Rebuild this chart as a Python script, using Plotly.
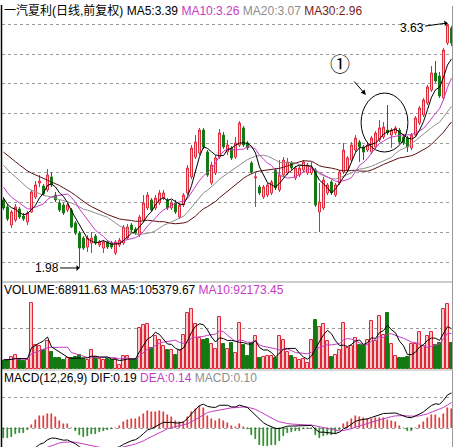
import plotly.graph_objects as go
import pandas as pd
import numpy as np

# ---------------- data ----------------
open_ = [2.438, 2.391, 2.269, 2.303, 2.377, 2.330, 2.290, 2.357, 2.458, 2.552,
         2.532, 2.505, 2.593, 2.471, 2.418, 2.404, 2.370, 2.370, 2.283, 2.215,
         2.182, 2.121, 2.148, 2.195, 2.135, 2.114, 2.155, 2.148, 2.081, 2.135,
         2.148, 2.182, 2.269, 2.242, 2.202, 2.303, 2.384, 2.438, 2.384, 2.418,
         2.451, 2.438, 2.384, 2.418, 2.323, 2.404, 2.485, 2.593, 2.727, 2.754,
         2.909, 2.761, 2.552, 2.620, 2.727, 2.875, 2.761, 2.788, 2.727, 2.808,
         2.923, 2.822, 2.687, 2.586, 2.525, 2.458, 2.471, 2.485, 2.640, 2.505,
         2.606, 2.620, 2.687, 2.586, 2.606, 2.640, 2.620, 2.620, 2.640, 2.357,
         2.384, 2.485, 2.559, 2.471, 2.552, 2.626, 2.640, 2.707, 2.774, 2.828,
         2.795, 2.774, 2.761, 2.795, 2.842, 2.862, 2.909, 2.875, 2.889, 2.909,
         2.862, 2.855, 2.788, 2.875, 2.956, 3.010, 3.091, 3.178, 3.293, 3.273,
         3.125, 3.495, 3.596]
high = [2.458, 2.411, 2.370, 2.411, 2.391, 2.350, 2.364, 2.505, 2.566, 2.606,
        2.545, 2.646, 2.626, 2.492, 2.438, 2.418, 2.418, 2.384, 2.296, 2.229,
        2.195, 2.202, 2.222, 2.209, 2.168, 2.168, 2.168, 2.162, 2.168, 2.182,
        2.269, 2.276, 2.283, 2.256, 2.337, 2.471, 2.492, 2.451, 2.471, 2.505,
        2.505, 2.451, 2.438, 2.438, 2.418, 2.485, 2.673, 2.808, 2.875, 2.923,
        2.923, 2.774, 2.694, 2.741, 2.916, 2.896, 2.842, 2.801, 2.862, 2.970,
        2.936, 2.835, 2.700, 2.620, 2.539, 2.539, 2.552, 2.572, 2.653, 2.707,
        2.727, 2.721, 2.700, 2.667, 2.667, 2.707, 2.687, 2.694, 2.653, 2.552,
        2.593, 2.552, 2.572, 2.552, 2.640, 2.822, 2.734, 2.828, 2.875, 2.842,
        2.808, 2.822, 2.869, 2.902, 2.976, 2.963, 3.077, 2.923, 2.936, 2.923,
        2.875, 2.869, 2.889, 3.003, 3.071, 3.125, 3.212, 3.340, 3.374, 3.300,
        3.461, 3.630, 3.609]
low = [2.370, 2.296, 2.249, 2.290, 2.310, 2.296, 2.269, 2.350, 2.444, 2.525,
       2.465, 2.492, 2.525, 2.424, 2.357, 2.337, 2.357, 2.249, 2.202, 1.980,
       2.101, 2.088, 2.081, 2.135, 2.121, 2.081, 2.108, 2.108, 2.067, 2.121,
       2.135, 2.168, 2.222, 2.202, 2.189, 2.290, 2.370, 2.357, 2.370, 2.404,
       2.438, 2.370, 2.370, 2.343, 2.310, 2.391, 2.471, 2.579, 2.714, 2.741,
       2.781, 2.593, 2.539, 2.606, 2.714, 2.781, 2.741, 2.707, 2.714, 2.795,
       2.795, 2.774, 2.613, 2.391, 2.471, 2.444, 2.458, 2.471, 2.505, 2.492,
       2.593, 2.606, 2.640, 2.572, 2.593, 2.626, 2.606, 2.606, 2.391, 2.222,
       2.370, 2.471, 2.471, 2.458, 2.539, 2.613, 2.626, 2.694, 2.761, 2.694,
       2.707, 2.761, 2.747, 2.781, 2.828, 2.848, 2.875, 2.788, 2.875, 2.815,
       2.808, 2.761, 2.774, 2.862, 2.943, 2.997, 3.077, 3.165, 3.226, 3.125,
       3.111, 3.481, 3.475]
close = [2.384, 2.310, 2.357, 2.391, 2.323, 2.310, 2.350, 2.492, 2.539, 2.566,
         2.478, 2.606, 2.539, 2.438, 2.370, 2.350, 2.404, 2.256, 2.215, 2.114,
         2.114, 2.182, 2.182, 2.148, 2.155, 2.155, 2.121, 2.121, 2.155, 2.168,
         2.256, 2.256, 2.236, 2.215, 2.323, 2.418, 2.471, 2.370, 2.451, 2.485,
         2.485, 2.384, 2.418, 2.357, 2.404, 2.471, 2.653, 2.788, 2.828, 2.909,
         2.795, 2.606, 2.673, 2.721, 2.889, 2.795, 2.808, 2.721, 2.822, 2.956,
         2.808, 2.788, 2.626, 2.593, 2.485, 2.525, 2.539, 2.559, 2.519, 2.606,
         2.707, 2.694, 2.653, 2.653, 2.653, 2.694, 2.673, 2.660, 2.404, 2.424,
         2.572, 2.539, 2.485, 2.539, 2.626, 2.774, 2.721, 2.808, 2.855, 2.795,
         2.761, 2.808, 2.855, 2.889, 2.923, 2.929, 2.889, 2.909, 2.923, 2.828,
         2.822, 2.795, 2.875, 2.990, 3.057, 3.111, 3.199, 3.293, 3.239, 3.138,
         3.448, 3.616, 3.495]
volume = [20900, 23500, 31400, 36600, 23500, 20900, 23500, 172600, 62800, 60100,
          49700, 73200, 44500, 28800, 28800, 23500, 28800, 28800, 31400, 36600,
          26200, 23500, 49700, 31400, 26200, 23500, 26200, 23500, 26200, 10500,
          34000, 34000, 26200, 26200, 107200, 115100, 117700, 54900, 86300, 75800,
          60100, 49700, 49700, 36600, 49700, 88900, 146400, 156900, 117700, 81100,
          75800, 78500, 65400, 52300, 136000, 65400, 52300, 68000, 41800, 120300,
          62800, 34000, 68000, 86300, 28800, 31400, 34000, 34000, 28800, 86300,
          75800, 44500, 34000, 28800, 23500, 26200, 15700, 75800, 128100, 109800,
          117700, 73200, 31400, 36600, 49700, 120300, 54900, 60100, 81100, 62800,
          62800, 75800, 125500, 73200, 138600, 88900, 146400, 65400, 34000, 28800,
          28800, 31400, 65400, 65400, 96800, 60100, 86300, 96800, 62800, 68000,
          156900, 170000, 68911.63]
# closes / volumes before the visible window (needed for the indicator lines)
prior_close = [3.02, 3.00, 2.98, 2.97, 2.95, 2.93, 2.92, 2.90, 2.88, 2.85,
               2.88, 2.86, 2.85, 2.83, 2.82, 2.81, 2.80, 2.78, 2.77, 2.75,
               2.70, 2.65, 2.60, 2.55, 2.50, 2.52, 2.47, 2.45, 2.43]
prior_volume = [26000, 24000, 28000, 25000, 27000, 23000, 26000, 24000, 25000]

title_price = "一汽夏利(日线,前复权)"
ma_labels = {"MA5": "3.39", "MA10": "3.26", "MA20": "3.07", "MA30": "2.96"}
vol_labels = {"VOLUME": "68911.63", "MA5": "105379.67", "MA10": "92173.45"}
macd_labels = {"DIF": "0.19", "DEA": "0.14", "MACD": "0.10"}

# ---------------- indicators ----------------
n = len(close)
x = list(range(n))
allc = pd.Series(prior_close + close, dtype=float)
k = len(prior_close)
ma = {p: allc.rolling(p).mean().iloc[k:].tolist() for p in (5, 10, 20, 30)}
allv = pd.Series(prior_volume + volume, dtype=float)
kv = len(prior_volume)
vma5 = allv.rolling(5).mean().iloc[kv:].tolist()
vma10 = allv.rolling(10, min_periods=1).mean().iloc[kv:].tolist()
ema12 = allc.ewm(span=12, adjust=False).mean()
ema26 = allc.ewm(span=26, adjust=False).mean()
dif_s = ema12 - ema26
dea_s = dif_s.ewm(span=9, adjust=False).mean()
dif = dif_s.iloc[k:].tolist()
dea = dea_s.iloc[k:].tolist()
hist = [2 * (a - b) for a, b in zip(dif, dea)]

# ---------------- styling ----------------
W, H = 456, 447
def py(p):
    return 1 - p / H
def px(p):
    return p / W

RED = "#e0283a"
REDFILL = "#f7cccc"
GREEN = "#137a13"
MAG = "#c33cc3"
GRAY = "#8e8e8e"
MAROON = "#5a1010"
FONT = "Liberation Sans, Arial, Noto Sans CJK SC, sans-serif"

up = [c >= o for o, c in zip(open_, close)]

fig = go.Figure()
fig.add_trace(go.Candlestick(
    x=x, open=open_, high=high, low=low, close=close,
    increasing=dict(line=dict(color=RED, width=1), fillcolor=REDFILL),
    decreasing=dict(line=dict(color=GREEN, width=1), fillcolor=GREEN),
    whiskerwidth=0, xaxis="x", yaxis="y", hoverinfo="skip"))
for p, col in ((30, MAROON), (20, GRAY), (10, MAG), (5, "#000000")):
    fig.add_trace(go.Scatter(x=x, y=ma[p], mode="lines",
                             line=dict(color=col, width=1),
                             xaxis="x", yaxis="y", hoverinfo="skip"))

fig.add_trace(go.Bar(
    x=x, y=volume, width=0.7,
    marker=dict(color=[REDFILL if u else GREEN for u in up],
                line=dict(color=[RED if u else GREEN for u in up], width=1)),
    xaxis="x2", yaxis="y2", hoverinfo="skip"))
fig.add_trace(go.Scatter(x=x, y=vma10, mode="lines", line=dict(color=MAG, width=1),
                         xaxis="x2", yaxis="y2", hoverinfo="skip"))
fig.add_trace(go.Scatter(x=x, y=vma5, mode="lines", line=dict(color="#000000", width=1),
                         xaxis="x2", yaxis="y2", hoverinfo="skip"))

hist_col = ["#e02020" if h >= 0 else "#108010" for h in hist]
fig.add_trace(go.Bar(
    x=x, y=hist, width=0.3,
    marker=dict(color=hist_col, line=dict(color=hist_col, width=0.5)),
    xaxis="x3", yaxis="y3", hoverinfo="skip"))
fig.add_trace(go.Scatter(x=x, y=dea, mode="lines", line=dict(color=MAG, width=1),
                         xaxis="x3", yaxis="y3", hoverinfo="skip"))
fig.add_trace(go.Scatter(x=x, y=dif, mode="lines", line=dict(color="#000000", width=1),
                         xaxis="x3", yaxis="y3", hoverinfo="skip"))

xr = [-0.375, n - 1 + 0.375]
xdom = [px(2), px(453)]
xcommon = dict(range=xr, domain=xdom, showgrid=False, zeroline=False,
               showticklabels=False, ticks="", showline=False, fixedrange=True)
gridc = dict(showgrid=True, gridcolor="#9a9a9a", griddash="dot", gridwidth=1,
             zeroline=False, showticklabels=False, ticks="", showline=False)

vol_scale = 2615.0
macd_px = 0.00528
fig.update_layout(
    width=W, height=H, margin=dict(l=0, r=0, t=0, b=0),
    paper_bgcolor="white", plot_bgcolor="white", showlegend=False,
    bargap=0,
    xaxis=dict(xcommon, anchor="y", rangeslider=dict(visible=False)),
    xaxis2=dict(xcommon, anchor="y2"),
    xaxis3=dict(xcommon, anchor="y3"),
    yaxis=dict(gridc, domain=[py(281), py(14)], range=[1.8923, 3.6902],
               tickvals=[2.02, 2.22, 2.42, 2.62, 2.82, 3.02, 3.22, 3.42, 3.62]),
    yaxis2=dict(gridc, domain=[py(369), py(284)], range=[0, 85 * vol_scale],
                tickvals=[41 * vol_scale]),
    yaxis3=dict(gridc, domain=[0, py(371)], range=[-19 * macd_px, 57 * macd_px],
                tickvals=[0, 31 * macd_px]),
    font=dict(family=FONT, size=12, color="#000000"),
)

def span(t, c):
    return f"<span style='color:{c}'>{t}</span>"

t1 = (span(title_price, "#000") + " " + span(f"MA5:{ma_labels['MA5']}", "#000") + " "
      + span(f"MA10:{ma_labels['MA10']}", MAG) + " "
      + span(f"MA20:{ma_labels['MA20']}", GRAY) + " "
      + span(f"MA30:{ma_labels['MA30']}", "#7a1a1a"))
t2 = (span(f"VOLUME:{vol_labels['VOLUME']}", "#000") + " "
      + span(f"MA5:{vol_labels['MA5']}", "#000") + " "
      + span(f"MA10:{vol_labels['MA10']}", MAG))
t3 = (span(f"MACD(12,26,9) DIF:{macd_labels['DIF']}", "#000") + " "
      + span(f"DEA:{macd_labels['DEA']}", MAG) + " "
      + span(f"MACD:{macd_labels['MACD']}", GRAY))

ann = []
for txt, yy in ((t1, 10), (t2, 290), (t3, 378)):
    ann.append(dict(text=txt, xref="paper", yref="paper", x=px(2), y=py(yy),
                    xanchor="left", yanchor="middle", showarrow=False,
                    font=dict(size=12, family=FONT)))
imin = int(np.argmin(low))
imax = int(np.argmax(high))
ann.append(dict(text=f"{low[imin]:.2f}", x=imin, y=low[imin], xref="x", yref="y",
                showarrow=True, ax=-33, ay=0, arrowhead=1, arrowsize=1,
                arrowwidth=1, arrowcolor="#000", font=dict(size=12, family=FONT)))
ann.append(dict(text=f"{high[imax]:.2f}", x=imax, y=high[imax], xref="x", yref="y",
                showarrow=True, ax=-36, ay=5, arrowhead=1, arrowsize=1,
                arrowwidth=1, arrowcolor="#000", font=dict(size=12, family=FONT)))
ann.append(dict(text="①", x=84.1, y=3.36, xref="x", yref="y", showarrow=False,
                font=dict(size=20, family="Noto Sans CJK SC, DejaVu Sans")))
ann.append(dict(text="", x=90.6, y=3.145, xref="x", yref="y", showarrow=True,
                ax=-13, ay=-15, arrowhead=2, arrowsize=1, arrowwidth=1,
                arrowcolor="#000"))
fig.update_layout(annotations=ann)

shapes = [
    dict(type="circle", xref="x", yref="y", x0=89.4, x1=101.1, y0=2.761, y1=3.158,
         line=dict(color="#000", width=1)),
    dict(type="line", xref="paper", yref="paper", x0=px(1.5), x1=px(1.5),
         y0=0, y1=py(5), line=dict(color="#000", width=1.5)),
    dict(type="line", xref="paper", yref="paper", x0=px(452.5), x1=px(452.5),
         y0=0, y1=py(6), line=dict(color="#9a9a9a", width=1)),
    dict(type="line", xref="paper", yref="paper", x0=px(2), x1=px(453),
         y0=py(282), y1=py(282), line=dict(color="#9a9a9a", width=1)),
    dict(type="line", xref="paper", yref="paper", x0=px(2), x1=px(453),
         y0=py(370), y1=py(370), line=dict(color="#b0b0b0", width=1)),
]
fig.update_layout(shapes=shapes)

fig.write_html("out.html",
               config={"displayModeBar": False},
               post_script="document.body.style.margin='0';"
                           "document.body.style.overflow='hidden';")
